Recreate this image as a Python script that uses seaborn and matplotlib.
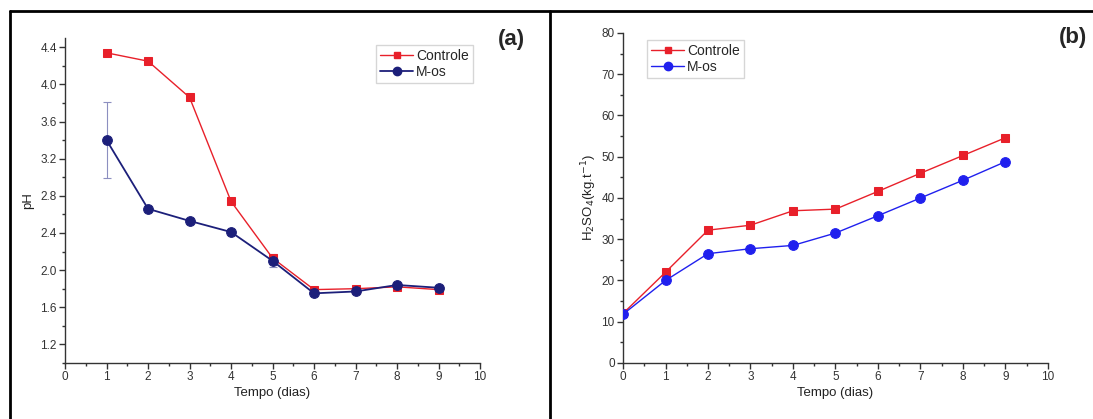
import numpy as np
import pandas as pd
import matplotlib
matplotlib.use("Agg")
import matplotlib.pyplot as plt
import seaborn as sns
from matplotlib.ticker import MultipleLocator
from matplotlib.lines import Line2D

sns.set_theme(style="ticks")
plt.rcParams['font.family'] = ['Liberation Sans', 'DejaVu Sans']

# panel (a): pH over time
days_a = [1, 2, 3, 4, 5, 6, 7, 8, 9]
ph_controle = [4.34, 4.25, 3.86, 2.74, 2.13, 1.79, 1.80, 1.82, 1.79]
ph_mos = [3.40, 2.66, 2.53, 2.41, 2.10, 1.75, 1.77, 1.84, 1.81]
ph_mos_err = [0.41, 0.0, 0.0, 0.0, 0.07, 0.0, 0.0, 0.0, 0.0]

# panel (b): H2SO4 over time
days_b = [0, 1, 2, 3, 4, 5, 6, 7, 8, 9]
acid_controle = [12.0, 22.0, 32.2, 33.4, 36.9, 37.3, 41.6, 46.0, 50.3, 54.6]
acid_mos = [11.8, 20.0, 26.5, 27.7, 28.5, 31.5, 35.7, 40.0, 44.3, 48.8]

RED = '#e8202a'
NAVY = '#1c1f7a'
BLUE = '#2020ee'


def style_axis(ax):
    sns.despine(ax=ax)
    ax.spines['left'].set_linewidth(1.0)
    ax.spines['bottom'].set_linewidth(1.0)
    ax.spines['left'].set_color('#333333')
    ax.spines['bottom'].set_color('#333333')
    ax.tick_params(which='major', length=4, width=1, labelsize=8.5, colors='#333333', pad=2)
    ax.tick_params(which='minor', length=2.5, width=1, colors='#333333')
    ax.set_xlim(0, 10)
    ax.xaxis.set_major_locator(MultipleLocator(1))
    ax.xaxis.set_minor_locator(MultipleLocator(0.5))
    ax.set_xlabel('Tempo (dias)', fontsize=9.5, labelpad=3, color='#222222')


fig = plt.figure(figsize=(10.93, 4.19), dpi=100)
ax1 = fig.add_axes([0.0595, 0.1337, 0.3797, 0.7757])
ax2 = fig.add_axes([0.570, 0.1337, 0.3888, 0.7876])

# (a)
df_a = pd.DataFrame({'dia': days_a, 'Controle': ph_controle, 'M-os': ph_mos})
ax1.errorbar(days_a, ph_mos, yerr=ph_mos_err, fmt='none', ecolor='#8c8fc0',
             elinewidth=0.8, capsize=3, capthick=0.8, zorder=1)
sns.lineplot(data=df_a, x='dia', y='Controle', ax=ax1, color=RED, marker='s',
             markersize=6, markeredgecolor=RED, linewidth=1.0, zorder=3)
sns.lineplot(data=df_a, x='dia', y='M-os', ax=ax1, color=NAVY, marker='o',
             markersize=7, markeredgecolor=NAVY, linewidth=1.3, zorder=4)
style_axis(ax1)
ax1.set_ylim(1.0, 4.5)
ax1.yaxis.set_minor_locator(MultipleLocator(0.2))
ax1.set_yticks([1.2, 1.6, 2.0, 2.4, 2.8, 3.2, 3.6, 4.0, 4.4])
ax1.set_ylabel('pH', fontsize=9.5, labelpad=4, color='#222222')
handles_a = [Line2D([], [], color=RED, marker='s', markersize=5, linewidth=1.0),
             Line2D([], [], color=NAVY, marker='o', markersize=6, linewidth=1.3)]
ax1.legend(handles_a, ['Controle', 'M-os'], loc='upper right', bbox_to_anchor=(1.0, 1.0),
           fontsize=10, frameon=True, fancybox=False, edgecolor='#cccccc',
           handlelength=2.4, handletextpad=0.2, borderpad=0.3, labelspacing=0.15)

# (b)
df_b = pd.DataFrame({'dia': days_b, 'Controle': acid_controle, 'M-os': acid_mos})
sns.lineplot(data=df_b, x='dia', y='Controle', ax=ax2, color=RED, marker='s',
             markersize=6, markeredgecolor=RED, linewidth=1.0, zorder=3)
sns.lineplot(data=df_b, x='dia', y='M-os', ax=ax2, color=BLUE, marker='o',
             markersize=7, markeredgecolor=BLUE, linewidth=1.0, zorder=4)
style_axis(ax2)
ax2.set_ylim(0, 80)
ax2.yaxis.set_major_locator(MultipleLocator(10))
ax2.yaxis.set_minor_locator(MultipleLocator(5))
ax2.set_ylabel('H$_2$SO$_4$(kg.t$^{-1}$)', fontsize=9.5, labelpad=2, color='#222222')
handles_b = [Line2D([], [], color=RED, marker='s', markersize=5, linewidth=1.0),
             Line2D([], [], color=BLUE, marker='o', markersize=6, linewidth=1.0)]
ax2.legend(handles_b, ['Controle', 'M-os'], loc='upper left', bbox_to_anchor=(0.04, 1.0),
           fontsize=10, frameon=True, fancybox=False, edgecolor='#cccccc',
           handlelength=2.4, handletextpad=0.2, borderpad=0.3, labelspacing=0.15)

# panel letters
fig.text(0.468, 0.905, '(a)', fontsize=16, fontweight='bold', ha='center', va='center')
fig.text(0.982, 0.91, '(b)', fontsize=16, fontweight='bold', ha='center', va='center')

# frame lines around the panels
frame_kw = dict(color='black', linewidth=2.0, transform=fig.transFigure)
fig.add_artist(Line2D([0.0092, 1.0], [0.974, 0.974], **frame_kw))
fig.add_artist(Line2D([0.0092, 0.0092], [0.0, 0.974], **frame_kw))
fig.add_artist(Line2D([0.5032, 0.5032], [0.0, 0.974], **frame_kw))

fig.savefig('out.png', dpi=100)
